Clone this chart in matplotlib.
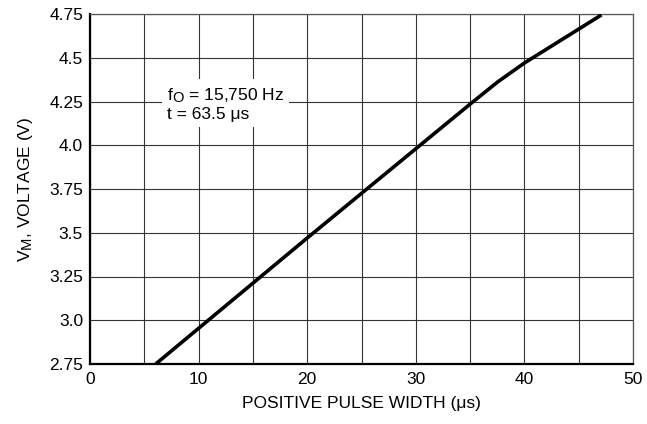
import matplotlib
matplotlib.use("Agg")
import matplotlib.pyplot as plt
try:
    import matplotlib._mathtext as _mt
    _mt.SHRINK_FACTOR = 0.85
except Exception:
    pass

# Data
pulse_width_us = [6.05, 20.0, 30.0, 35.0, 37.5, 40.0, 47.1]
voltage_v = [2.75, 3.47, 3.98, 4.235, 4.36, 4.47, 4.745]

x_ticks = [0, 10, 20, 30, 40, 50]
x_tick_labels = ["0", "10", "20", "30", "40", "50"]
y_ticks = [2.75, 3.0, 3.25, 3.5, 3.75, 4.0, 4.25, 4.5, 4.75]
y_tick_labels = ["2.75", "3.0", "3.25", "3.5", "3.75", "4.0", "4.25", "4.5", "4.75"]

plt.rcParams['font.family'] = ['Liberation Sans', 'DejaVu Sans']
plt.rcParams['mathtext.fontset'] = 'custom'
plt.rcParams['mathtext.rm'] = 'Liberation Sans'
plt.rcParams['mathtext.it'] = 'Liberation Sans'

FS = 12.5
fig = plt.figure(figsize=(6.47, 4.24), dpi=100)
ax = fig.add_axes([90/647, 60/424, 543/647, 350/424])

ax.set_xlim(0, 50)
ax.set_ylim(2.75, 4.75)
ax.set_xticks(x_ticks)
ax.set_xticklabels(x_tick_labels, fontsize=FS)
ax.set_xticks([5, 15, 25, 35, 45], minor=True)
ax.set_yticks(y_ticks)
ax.set_yticklabels(y_tick_labels, fontsize=FS)
ax.tick_params(axis='both', which='both', length=0)
ax.tick_params(axis='x', pad=6)
ax.tick_params(axis='y', pad=5)

ax.grid(True, which='both', color='#333333', linewidth=0.8)
ax.set_axisbelow(True)

for s in ['top', 'right']:
    ax.spines[s].set_color('#555555')
    ax.spines[s].set_linewidth(0.9)
for s in ['left', 'bottom']:
    ax.spines[s].set_color('black')
    ax.spines[s].set_linewidth(1.6)

ax.plot(pulse_width_us, voltage_v, color='black', linewidth=2.6,
        solid_capstyle='butt', zorder=3)

ax.text(7.1, 4.235, "f$_\\mathrm{O}$ = 15,750 Hz\nt = 63.5 μs", fontsize=FS,
        ha='left', va='center', linespacing=1.15,
        bbox=dict(boxstyle='square,pad=0.3', fc='white', ec='none'), zorder=4)

ax.set_xlabel("POSITIVE PULSE WIDTH (μs)", fontsize=FS, labelpad=6)
ax.set_ylabel("V$_\\mathrm{M}$, VOLTAGE (V)", fontsize=FS, labelpad=10)

fig.savefig("out.png", dpi=100)
